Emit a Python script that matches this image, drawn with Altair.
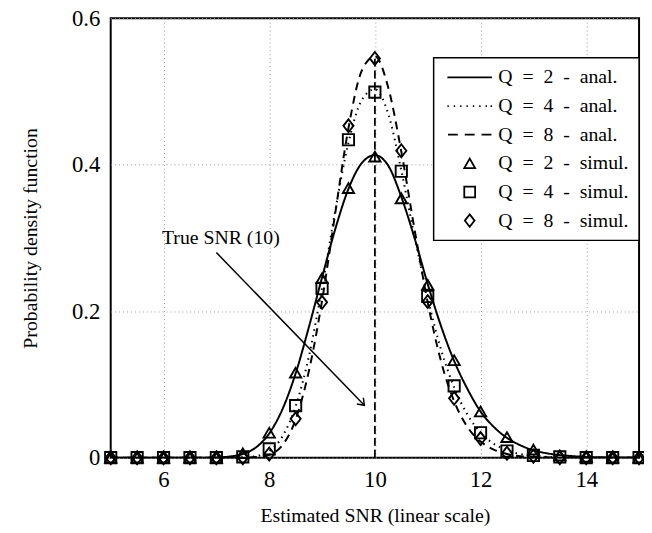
import math
import altair as alt
import pandas as pd

# ---------------- data ----------------
x_sim = [5.0, 5.5, 6.0, 6.5, 7.0, 7.5, 8.0, 8.5, 9.0, 9.5, 10.0,
         10.5, 11.0, 11.5, 12.0, 12.5, 13.0, 13.5, 14.0, 14.5, 15.0]
q2_sim = [0, 0, 0, 0, 0, 0.006, 0.034, 0.116, 0.245, 0.368, 0.411,
          0.354, 0.236, 0.133, 0.063, 0.028, 0.011, 0.003, 0.001, 0, 0]
q4_sim = [0, 0, 0, 0, 0, 0.001, 0.012, 0.071, 0.231, 0.434, 0.499,
          0.391, 0.220, 0.098, 0.034, 0.009, 0.003, 0.001, 0, 0, 0]
q8_sim = [0, 0, 0, 0, 0, 0, 0.005, 0.053, 0.212, 0.453, 0.545,
          0.419, 0.213, 0.081, 0.026, 0.006, 0.002, 0, 0, 0, 0]

x_anal = [5.0, 5.25, 5.5, 5.75, 6.0, 6.25, 6.5, 6.75, 7.0, 7.25, 7.5, 7.75,
          8.0, 8.25, 8.5, 8.75, 9.0, 9.25, 9.5, 9.75, 10.0, 10.25, 10.5, 10.75,
          11.0, 11.25, 11.5, 11.75, 12.0, 12.25, 12.5, 12.75, 13.0, 13.25, 13.5,
          13.75, 14.0, 14.25, 14.5, 14.75, 15.0]
q2_anal = [0, 0, 0, 0, 0, 0, 0, 0, 0.0003, 0.0015, 0.005, 0.014,
           0.033, 0.066, 0.115, 0.178, 0.246, 0.312, 0.367, 0.402, 0.413, 0.399, 0.356, 0.300,
           0.237, 0.180, 0.132, 0.094, 0.063, 0.042, 0.027, 0.017, 0.010, 0.006, 0.0035,
           0.002, 0.001, 0.0005, 0.0002, 0.0001, 0]
q4_anal = [0, 0, 0, 0, 0, 0, 0, 0, 0, 0, 0.0005, 0.002,
           0.009, 0.029, 0.070, 0.138, 0.232, 0.337, 0.430, 0.488, 0.503, 0.470, 0.392, 0.302,
           0.218, 0.148, 0.096, 0.059, 0.034, 0.019, 0.010, 0.005, 0.0025, 0.001, 0.0005,
           0, 0, 0, 0, 0, 0]
q8_anal = [0, 0, 0, 0, 0, 0, 0, 0, 0, 0, 0, 0.0008,
           0.004, 0.017, 0.052, 0.118, 0.214, 0.334, 0.450, 0.528, 0.548, 0.506, 0.418, 0.312,
           0.212, 0.132, 0.077, 0.042, 0.022, 0.011, 0.005, 0.002, 0.001, 0.0004, 0,
           0, 0, 0, 0, 0, 0]

SP = "\u2002"
anal_names = [f"Q{SP}={SP}2{SP}-{SP}anal.", f"Q{SP}={SP}4{SP}-{SP}anal.", f"Q{SP}={SP}8{SP}-{SP}anal."]
sim_names = [f"Q{SP}={SP}2{SP}-{SP}simul.", f"Q{SP}={SP}4{SP}-{SP}simul.", f"Q{SP}={SP}8{SP}-{SP}simul."]

x_ticks = [6, 8, 10, 12, 14]
y_ticks = [0, 0.2, 0.4, 0.6]

true_snr = 10
true_snr_top = 0.55
annot_text = "True SNR (10)"
annot_pos = (8.2, 0.291)
arrow_x = [7.0, 9.8]
arrow_y = [0.280, 0.0715]

# ---------------- tables ----------------
anal_df = pd.concat([
    pd.DataFrame({"x": x_anal, "y": ys, "series": n})
    for ys, n in zip([q2_anal, q4_anal, q8_anal], anal_names)
])
sim_df = pd.concat([
    pd.DataFrame({"x": x_sim, "y": ys, "series": n})
    for ys, n in zip([q2_sim, q4_sim, q8_sim], sim_names)
])

W, H = 535, 445
FONT = "Liberation Serif"
xs = alt.Scale(domain=[5, 15], nice=False, zero=False)
ys_ = alt.Scale(domain=[0, 0.6], nice=False)

# legend symbols: line samples as custom paths, markers
solid_path = "M-4.1,0H4.1"
dot_starts = [-4.1, -2.93, -1.76, -0.59, 0.58, 1.75, 2.92, 3.85]
dotted_path = "".join(f"M{a},0H{a + 0.25:.2f}" for a in dot_starts)
dashed_path = "M-4.0,0H-2.18M-0.91,0H0.91M2.18,0H4.0"
triangle_path = "triangle-up"
square_path = "square"
diamond_path = "M0,-1.15L0.9,0L0,1.15L-0.9,0Z"

all_names = anal_names + sim_names
shape_range = [solid_path, dotted_path, dashed_path, triangle_path, square_path, diamond_path]

x_enc = alt.X("x:Q", scale=xs, axis=alt.Axis(
    values=x_ticks, format="d", title="Estimated SNR (linear scale)",
    grid=True, labelPadding=11, titlePadding=15))
y_enc = alt.Y("y:Q", scale=ys_, axis=alt.Axis(
    values=y_ticks, labelExpr="datum.value == 0 ? '0' : format(datum.value, '.1f')",
    title="Probability density function", grid=True, labelPadding=11, titlePadding=31))

lines = alt.Chart(anal_df).mark_line(
    interpolate="monotone", strokeWidth=2, color="black", clip=True
).encode(
    x=x_enc, y=y_enc,
    strokeDash=alt.StrokeDash("series:N", scale=alt.Scale(
        domain=anal_names, range=[[1, 0], [1.5, 4.5], [8, 6]]), legend=None),
    detail="series:N",
)

rule_df = pd.DataFrame({"x": [true_snr], "y": [0], "y2": [true_snr_top]})
rule = alt.Chart(rule_df).mark_rule(color="black", strokeWidth=1.8, strokeDash=[8, 4]).encode(
    x=alt.X("x:Q", scale=xs), y=alt.Y("y:Q", scale=ys_), y2="y2:Q")

points = alt.Chart(sim_df).mark_point(
    filled=False, size=130, strokeWidth=1.9, color="black", opacity=1
).encode(
    x=alt.X("x:Q", scale=xs), y=alt.Y("y:Q", scale=ys_),
    shape=alt.Shape("series:N", scale=alt.Scale(domain=all_names, range=shape_range),
                    legend=alt.Legend(
                        title=None, orient="none", legendX=327, legendY=40,
                        labelFont=FONT, labelFontSize=20, labelColor="black", labelLimit=400,
                        symbolSize=121, symbolStrokeWidth=1.8, symbolStrokeColor="black",
                        symbolFillColor="transparent", symbolOffset=16.5, labelOffset=19,
                        rowPadding=9, padding=10, strokeColor="black", fillColor="white",
                        cornerRadius=0)),
)

arrow_df = pd.DataFrame({"x": arrow_x, "y": arrow_y, "o": [0, 1]})
arrow = alt.Chart(arrow_df).mark_line(color="black", strokeWidth=1.5).encode(
    x=alt.X("x:Q", scale=xs), y=alt.Y("y:Q", scale=ys_), order="o:O")

ang = math.degrees(math.atan2((arrow_y[0] - arrow_y[1]) * H / 0.6,
                              (arrow_x[1] - arrow_x[0]) * W / 10))
head_df = pd.DataFrame({"x": [arrow_x[1]], "y": [arrow_y[1]]})
head = alt.Chart(head_df).mark_point(
    shape="M-1,-0.75L0,0L-1,0.75", filled=False, size=150, strokeWidth=1.5,
    color="black", angle=ang, opacity=1
).encode(x=alt.X("x:Q", scale=xs), y=alt.Y("y:Q", scale=ys_))

text_df = pd.DataFrame({"x": [annot_pos[0]], "y": [annot_pos[1]], "t": [annot_text]})
text = alt.Chart(text_df).mark_text(
    align="right", baseline="alphabetic", font=FONT, fontSize=20, color="black"
).encode(x=alt.X("x:Q", scale=xs), y=alt.Y("y:Q", scale=ys_), text="t:N")

chart = alt.layer(lines, rule, arrow, head, text, points).properties(
    width=W, height=H,
    autosize=alt.AutoSizeParams(type="none"),
    padding={"left": 104, "top": 7, "right": 5, "bottom": 72},
).configure_view(
    stroke="black", strokeWidth=2
).configure_axis(
    domain=False, ticks=False,
    labelFont=FONT, labelFontSize=23, labelColor="black",
    titleFont=FONT, titleFontSize=20, titleFontWeight="normal", titleColor="black",
    gridColor="#9a9a9a", gridDash=[1, 3], gridWidth=1,
).configure_legend(strokeWidth=1.5)

chart.save("out.html", embed_options={"renderer": "svg", "actions": False})
